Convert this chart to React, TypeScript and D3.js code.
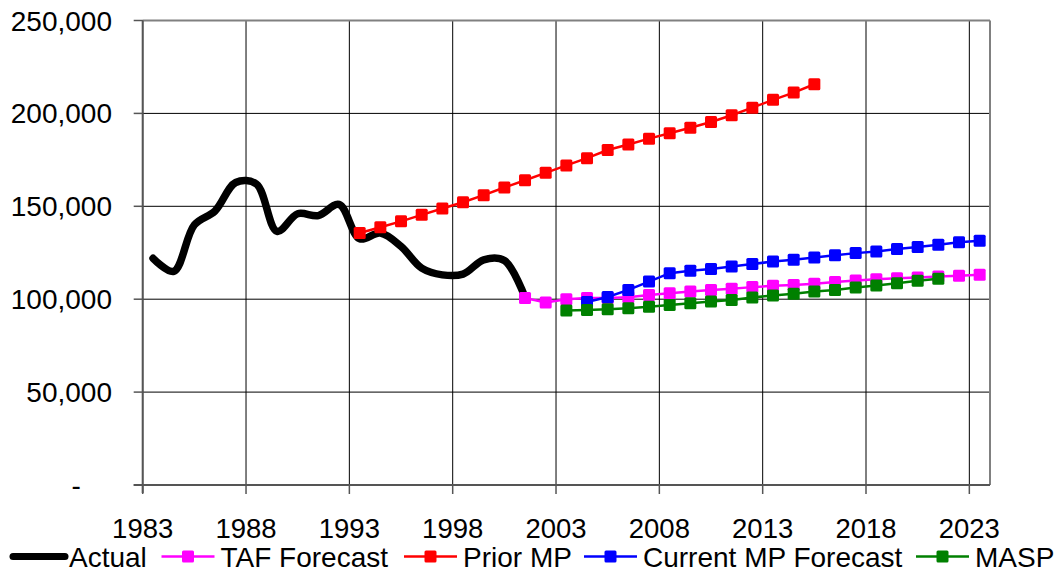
import React from "react";
import * as d3 from "d3";

const years: number[] = d3.range(1983, 2024);
const yTicks: number[] = [0, 50000, 100000, 150000, 200000, 250000];
const xTickYears: number[] = [1983, 1988, 1993, 1998, 2003, 2008, 2013, 2018, 2023];

const actualYears: number[] = d3.range(1983, 2002);
const actualValues: number[] = [122000, 115000, 140000, 147500, 162800, 162000, 136500, 146000, 145000, 151000, 132500, 135600, 128400, 116700, 113100, 113500, 121200, 120800, 101000];

const tafYears: number[] = d3.range(2001, 2024);
const tafValues: number[] = [100600, 98200, 100000, 100600, 100600, 101100, 102300, 103200, 104100, 105000, 105600, 106500, 107200, 107700, 108300, 109200, 110000, 110800, 111300, 111700, 112200, 112600, 113100];

const priorYears: number[] = d3.range(1993, 2016);
const priorValues: number[] = [135600, 138700, 141900, 145400, 148800, 152200, 156000, 160100, 164000, 168000, 172000, 175900, 180300, 183300, 186400, 189300, 192300, 195400, 199000, 203100, 207300, 211200, 215700];

const currentYears: number[] = d3.range(2004, 2024);
const currentValues: number[] = [98500, 101200, 105000, 109500, 114000, 115300, 116200, 117600, 118900, 120300, 121200, 122500, 123600, 124800, 125700, 127000, 128100, 129300, 130600, 131500];

const maspYears: number[] = d3.range(2003, 2022);
const maspValues: number[] = [93900, 94200, 94600, 95100, 96000, 96900, 97800, 98700, 99600, 100900, 102000, 102900, 104100, 105000, 106300, 107400, 108600, 109900, 111000];

const legendNames: string[] = ["Actual", "TAF Forecast", "Prior MP", "Current MP Forecast", "MASP"];
const legendColors: string[] = ["#000000", "#FF00FF", "#FF0000", "#0000FF", "#008000"];

const W = 1060;
const H = 573;
const FONT = "Liberation Sans, Arial, sans-serif";
const FS = 28;

export default function App() {
  const left = 142.7;
  const right = 990;
  const top = 20.5;
  const bottom = 485;

  const x = d3.scaleBand<number>().domain(years).range([left, right]).paddingInner(0).paddingOuter(0);
  const bw = x.bandwidth();
  const cx = (yr: number) => (x(yr) as number) + bw / 2;
  const tickX = (yr: number) => x(yr) as number;
  const y = d3.scaleLinear().domain([0, 250000]).range([bottom, top]);

  const fmt = d3.format(",");

  const mk = (ys: number[], vs: number[]) => ys.map((yr, i) => [cx(yr), y(vs[i])] as [number, number]);

  const smooth = d3.line().curve(d3.curveCatmullRom.alpha(0.5));
  const straight = d3.line();

  const series = [
    { pts: mk(tafYears, tafValues), color: legendColors[1] },
    { pts: mk(priorYears, priorValues), color: legendColors[2] },
    { pts: mk(currentYears, currentValues), color: legendColors[3] },
    { pts: mk(maspYears, maspValues), color: legendColors[4] },
  ];
  const actualPts = mk(actualYears, actualValues);

  const ms = 12;
  const digitW = 0.556 * FS;

  // legend layout
  const legendY = 556.5;
  const legendStarts = [10, 161.5, 404, 584, 916];
  const lineLen = 53;

  return (
    <svg width={W} height={H} style={{ position: "absolute", left: 0, top: 0, background: "#fff" }} fontFamily={FONT}>
      <rect x={0} y={0} width={W} height={H} fill="#fff" />
      {/* horizontal grid */}
      {yTicks.map((t) => (
        <line key={"hg" + t} x1={left} x2={right} y1={y(t)} y2={y(t)} stroke="#000" strokeWidth={1} />
      ))}
      {/* vertical grid */}
      {xTickYears.map((yr) => (
        <line key={"vg" + yr} x1={tickX(yr)} x2={tickX(yr)} y1={top} y2={bottom} stroke="#000" strokeWidth={1} />
      ))}
      {/* border */}
      <line x1={left} x2={right} y1={top} y2={top} stroke="#808080" strokeWidth={2} />
      <line x1={right} x2={right} y1={top} y2={bottom} stroke="#808080" strokeWidth={2} />
      <line x1={left} x2={left} y1={top} y2={bottom + 8} stroke="#555" strokeWidth={2} />
      <line x1={left - 9} x2={right} y1={bottom} y2={bottom} stroke="#555" strokeWidth={2} />
      {/* y ticks */}
      {yTicks.map((t) => (
        <g key={"yt" + t}>
          <line x1={left - 9} x2={left} y1={y(t)} y2={y(t)} stroke="#555" strokeWidth={1.5} />
          <text x={t === 0 ? 112 - 2 * digitW : 112} y={y(t)} dy="0.36em" textAnchor="end" fontSize={FS} fill="#000">
            {t === 0 ? "-" : fmt(t)}
          </text>
        </g>
      ))}
      {/* x ticks */}
      {xTickYears.map((yr) => (
        <g key={"xt" + yr}>
          <line x1={tickX(yr)} x2={tickX(yr)} y1={bottom} y2={bottom + 9} stroke="#555" strokeWidth={1.5} />
          <text x={tickX(yr)} y={538} textAnchor="middle" fontSize={27.5} fill="#000">
            {yr}
          </text>
        </g>
      ))}
      {/* actual */}
      <path d={smooth(actualPts) || ""} fill="none" stroke="#000" strokeWidth={7.5} strokeLinecap="round" strokeLinejoin="round" />
      {/* forecast series */}
      {series.map((s, i) => (
        <g key={"s" + i}>
          <path d={straight(s.pts) || ""} fill="none" stroke={s.color} strokeWidth={2.5} />
          {s.pts.map((p, j) => (
            <rect key={j} x={p[0] - ms / 2} y={p[1] - ms / 2} width={ms} height={ms} rx={1.5} fill={s.color} />
          ))}
        </g>
      ))}
      {/* legend */}
      {legendNames.map((name, i) => {
        const x0 = legendStarts[i];
        const isActual = i === 0;
        return (
          <g key={"lg" + i}>
            <line
              x1={x0 + (isActual ? 3 : 0)}
              x2={x0 + lineLen + (isActual ? 2 : 0)}
              y1={legendY}
              y2={legendY}
              stroke={legendColors[i]}
              strokeWidth={isActual ? 7 : 2.5}
              strokeLinecap={isActual ? "round" : "butt"}
            />
            {!isActual && (
              <rect x={x0 + lineLen / 2 - 6} y={legendY - 6} width={12} height={12} rx={1.5} fill={legendColors[i]} />
            )}
            <text x={x0 + lineLen + 6} y={567} fontSize={FS} fill="#000">
              {name}
            </text>
          </g>
        );
      })}
    </svg>
  );
}
